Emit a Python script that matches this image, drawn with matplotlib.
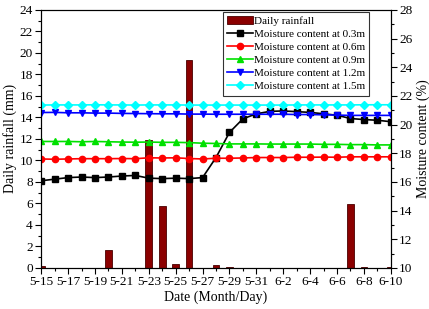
import numpy as np
import matplotlib.pyplot as plt
from matplotlib.ticker import MultipleLocator

plt.rcParams['font.family'] = ['Liberation Serif', 'DejaVu Serif']
plt.rcParams['font.size'] = 9.5

# dias a partir de 5-15 (0) ate 6-10 (26)
dias = np.arange(27)
rotulos = ['5-15', '5-17', '5-19', '5-21', '5-23', '5-25', '5-27', '5-29',
           '5-31', '6-2', '6-4', '6-6', '6-8', '6-10']

chuva = [0.15, 0, 0, 0, 0, 1.7, 0, 0, 11.9, 5.75, 0.35, 19.35, 0, 0.3, 0.1,
         0, 0, 0, 0, 0, 0, 0, 0, 5.95, 0.1, 0, 0.1]

umid_03 = [16.08, 16.19, 16.3, 16.34, 16.3, 16.34, 16.41, 16.45, 16.26, 16.23,
           16.26, 16.23, 16.3, 17.7, 19.45, 20.4, 20.75, 20.92, 20.95, 20.9,
           20.85, 20.75, 20.65, 20.42, 20.35, 20.3, 20.2]
umid_06 = [17.6, 17.58, 17.6, 17.62, 17.62, 17.62, 17.63, 17.62, 17.68, 17.67,
           17.68, 17.63, 17.6, 17.65, 17.65, 17.67, 17.7, 17.7, 17.7, 17.72,
           17.72, 17.73, 17.72, 17.75, 17.75, 17.75, 17.75]
umid_09 = [18.82, 18.82, 18.82, 18.8, 18.82, 18.8, 18.78, 18.77, 18.78, 18.76,
           18.76, 18.74, 18.7, 18.68, 18.65, 18.65, 18.65, 18.64, 18.64, 18.64,
           18.64, 18.62, 18.62, 18.6, 18.6, 18.58, 18.58]
umid_12 = [20.84, 20.85, 20.82, 20.82, 20.8, 20.8, 20.78, 20.77, 20.76, 20.75,
           20.75, 20.73, 20.73, 20.72, 20.72, 20.72, 20.72, 20.72, 20.72, 20.7,
           20.7, 20.68, 20.66, 20.64, 20.64, 20.64, 20.64]
umid_15 = [21.36, 21.37, 21.37, 21.37, 21.38, 21.37, 21.37, 21.36, 21.37, 21.37,
           21.37, 21.36, 21.36, 21.36, 21.36, 21.36, 21.36, 21.36, 21.36, 21.37,
           21.37, 21.37, 21.37, 21.37, 21.38, 21.38, 21.38]

fig = plt.figure(figsize=(4.29, 3.09), dpi=100)
ax1 = fig.add_axes([0.096, 0.133, 0.815, 0.835])
ax2 = ax1.twinx()

barras = ax1.bar(dias, chuva, width=0.5, color='#8b0000', edgecolor='#4a0000',
                 linewidth=0.6, label='Daily rainfall')

series = [
    (umid_03, 'black', 's', 'Moisture content at 0.3m'),
    (umid_06, 'red', 'o', 'Moisture content at 0.6m'),
    (umid_09, '#00e000', '^', 'Moisture content at 0.9m'),
    (umid_12, '#0000ff', 'v', 'Moisture content at 1.2m'),
    (umid_15, '#00ffff', 'D', 'Moisture content at 1.5m'),
]
linhas = []
for valores, cor, marc, nome in series:
    l, = ax2.plot(dias, valores, color=cor, marker=marc, markersize=4.5,
                  linewidth=1.2, label=nome)
    linhas.append(l)

ax1.set_xlim(0, 26)
ax1.set_ylim(0, 24)
ax2.set_ylim(10, 28)
ax1.set_xticks(np.arange(0, 27, 2))
ax1.set_xticklabels(rotulos)
ax1.xaxis.set_minor_locator(MultipleLocator(1))
ax1.yaxis.set_major_locator(MultipleLocator(2))
ax1.yaxis.set_minor_locator(MultipleLocator(1))
ax2.yaxis.set_major_locator(MultipleLocator(2))
ax2.yaxis.set_minor_locator(MultipleLocator(1))
for ax in (ax1, ax2):
    ax.tick_params(which='major', length=4, width=0.8, pad=2)
    ax.tick_params(which='minor', length=2, width=0.8)

ax1.set_xlabel('Date (Month/Day)', fontsize=10, labelpad=2)
ax1.set_ylabel('Daily rainfall (mm)', fontsize=10, labelpad=2)
ax2.set_ylabel('Moisture content (%)', fontsize=10, labelpad=3)

leg = ax2.legend([barras] + linhas,
                 ['Daily rainfall'] + [s[3] for s in series],
                 loc='upper right', bbox_to_anchor=(0.943, 1.0),
                 fontsize=8, frameon=True, fancybox=False, edgecolor='black',
                 handlelength=2.3, handletextpad=0.1, borderpad=0.4,
                 labelspacing=0.3, borderaxespad=0.15)
leg.get_frame().set_linewidth(0.8)

fig.savefig('out.png', dpi=100)
